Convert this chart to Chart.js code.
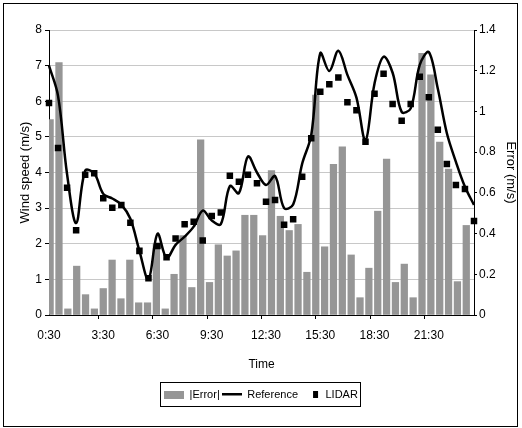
<!DOCTYPE html>
<html>
<head>
<meta charset="utf-8">
<script src="https://cdn.jsdelivr.net/npm/chart.js@4.4.1/dist/chart.umd.min.js"></script>
<style>
    html, body { margin: 0; padding: 0; background: #fff; }
    #wrap { position: relative; width: 522px; height: 428px; }
</style>
</head>
<body>
<div id="wrap"><canvas id="chart" width="522" height="428"></canvas></div>
<script>
// Half-hourly categories
const timeLabels = [
    '0:30', '1:00', '1:30', '2:00', '2:30', '3:00', '3:30', '4:00', '4:30', '5:00', '5:30', '6:00',
    '6:30', '7:00', '7:30', '8:00', '8:30', '9:00', '9:30', '10:00', '10:30', '11:00', '11:30', '12:00',
    '12:30', '13:00', '13:30', '14:00', '14:30', '15:00', '15:30', '16:00', '16:30', '17:00', '17:30', '18:00',
    '18:30', '19:00', '19:30', '20:00', '20:30', '21:00', '21:30', '22:00', '22:30', '23:00', '23:30', '24:00'
];

// |Error| (m/s), right axis
const errorValues = [
    0.96, 1.24, 0.03, 0.24, 0.10, 0.03, 0.13, 0.27, 0.08, 0.27, 0.06, 0.06,
    0.35, 0.03, 0.20, 0.39, 0.135, 0.86, 0.16, 0.345, 0.29, 0.315, 0.49, 0.49,
    0.39, 0.71, 0.485, 0.415, 0.445, 0.21, 1.08, 0.335, 0.74, 0.826, 0.295, 0.085,
    0.23, 0.51, 0.766, 0.16, 0.25, 0.085, 1.285, 1.18, 0.85, 0.717, 0.164, 0.44
];

// Reference wind speed (m/s)
const referenceValues = [
    7.0, 6.15, 3.95, 2.58, 4.05, 3.98, 3.4, 3.27, 3.1, 2.7, 1.8, 1.0,
    2.28, 1.6, 1.97, 2.2, 2.48, 2.93, 2.65, 2.55, 3.62, 3.42, 4.45, 4.0,
    3.65, 3.9, 3.0, 3.1, 4.25, 5.05, 7.35, 6.85, 7.42, 6.74, 6.1, 4.9,
    6.5, 7.25, 6.8, 5.7, 5.8, 7.02, 7.38, 6.35, 5.1, 4.3, 3.6, 3.09
];

// LIDAR wind speed (m/s)
const lidarValues = [
    5.95, 4.69, 3.57, 2.38, 3.94, 3.98, 3.28, 3.01, 3.09, 2.59, 1.80, 1.03,
    1.94, 1.62, 2.15, 2.55, 2.62, 2.09, 2.78, 2.88, 3.91, 3.74, 3.94, 3.70,
    3.18, 3.23, 2.53, 2.69, 3.88, 4.96, 6.27, 6.48, 6.67, 5.97, 5.75, 4.86,
    6.21, 6.77, 5.92, 5.45, 5.92, 6.69, 6.11, 5.20, 4.24, 3.65, 3.54, 2.64
];

const FONT = '"Liberation Sans", Arial, sans-serif';
const BAR_GREY = '#969696';

// small swatches for the legend
function makeSwatch(w, h, draw) {
    const c = document.createElement('canvas');
    c.width = w;
    c.height = h;
    draw(c.getContext('2d'));
    return c;
}
const errorSwatch = makeSwatch(20, 8, g => { g.fillStyle = BAR_GREY; g.fillRect(0, 0, 20, 8); });
const refSwatch = makeSwatch(20, 3, g => { g.fillStyle = '#000'; g.fillRect(0, 0, 20, 2.5); });
const lidarSwatch = makeSwatch(20, 7, g => { g.fillStyle = '#000'; g.fillRect(13, 0, 5, 7); });

// frame around the whole picture and around the legend
const framePlugin = {
    id: 'frame',
    afterDraw(chart) {
        const ctx = chart.ctx;
        ctx.save();
        ctx.strokeStyle = '#000';
        ctx.lineWidth = 1;
        ctx.strokeRect(3.5, 3.5, 514, 423);

        const boxes = chart.legend.legendHitBoxes;
        if (boxes && boxes.length) {
            const left = Math.min(...boxes.map(b => b.left));
            const right = Math.max(...boxes.map(b => b.left + b.width));
            const top = boxes[0].top;
            ctx.strokeRect(Math.round(left) - 3.5, Math.round(top) - 6.5, Math.round(right - left) + 6, 24);
        }
        ctx.restore();
    }
};

new Chart(document.getElementById('chart'), {
    type: 'bar',
    data: {
        labels: timeLabels,
        datasets: [
            {
                type: 'bar',
                label: '|Error|',
                data: errorValues,
                backgroundColor: BAR_GREY,
                xAxisID: 'xb',
                yAxisID: 'y2',
                barThickness: 6.6,
                order: 3
            },
            {
                type: 'line',
                label: 'Reference',
                data: referenceValues,
                borderColor: '#000',
                borderWidth: 2.5,
                pointRadius: 0,
                tension: 0.35,
                fill: false,
                xAxisID: 'x',
                yAxisID: 'y',
                order: 2
            },
            {
                type: 'line',
                label: 'LIDAR',
                data: lidarValues,
                showLine: false,
                pointStyle: 'rect',
                pointRadius: 4.6,
                pointBackgroundColor: '#000',
                pointBorderColor: '#000',
                pointBorderWidth: 0,
                xAxisID: 'x',
                yAxisID: 'y',
                order: 1
            }
        ]
    },
    options: {
        responsive: false,
        animation: false,
        layout: { padding: { top: 30, left: 0, right: 0, bottom: 18 } },
        plugins: {
            tooltip: { enabled: false },
            legend: {
                position: 'bottom',
                labels: {
                    usePointStyle: true,
                    pointStyleWidth: 20,
                    boxHeight: 11,
                    padding: 2,
                    color: '#000',
                    font: { family: FONT, size: 11 },
                    generateLabels: () => [
                        { text: '|Error|', pointStyle: errorSwatch, fillStyle: BAR_GREY, lineWidth: 0, datasetIndex: 0 },
                        { text: 'Reference', pointStyle: refSwatch, fillStyle: '#000', lineWidth: 0, datasetIndex: 1 },
                        { text: 'LIDAR', pointStyle: lidarSwatch, fillStyle: '#000', lineWidth: 0, datasetIndex: 2 }
                    ]
                }
            }
        },
        scales: {
            x: {
                type: 'category',
                offset: false,
                grid: {
                    drawOnChartArea: false,
                    tickLength: 4,
                    color: c => (c.index > 0 && c.index % 6 === 0) ? '#000' : 'rgba(0,0,0,0)'
                },
                border: { color: '#000' },
                ticks: {
                    autoSkip: false,
                    maxRotation: 0,
                    padding: 9,
                    color: '#000',
                    font: { family: FONT, size: 12 },
                    callback: (v, i) => (i % 6 === 0 ? timeLabels[i] : '')
                },
                title: {
                    display: true,
                    text: 'Time',
                    color: '#000',
                    font: { family: FONT, size: 12 },
                    padding: { top: 0, bottom: 15 }
                },
                afterFit: s => { s.height = 72; }
            },
            xb: {
                type: 'category',
                offset: true,
                display: false
            },
            y: {
                position: 'left',
                min: 0,
                max: 8,
                ticks: {
                    stepSize: 1,
                    padding: 3,
                    color: '#000',
                    font: { family: FONT, size: 12 }
                },
                grid: { color: '#c8c8c8', tickColor: '#000', tickLength: 4 },
                border: { color: '#000' },
                title: {
                    display: true,
                    text: 'Wind speed (m/s)',
                    color: '#000',
                    font: { family: FONT, size: 13 },
                    padding: { top: 18, bottom: 0 }
                },
                afterFit: s => { s.width = 49; }
            },
            y2: {
                position: 'right',
                min: 0,
                max: 1.4,
                ticks: {
                    stepSize: 0.2,
                    padding: 2,
                    color: '#000',
                    font: { family: FONT, size: 12 },
                    callback: v => String(+v.toFixed(1))
                },
                grid: { drawOnChartArea: false, color: '#000', tickLength: 3 },
                border: { color: '#000' },
                title: {
                    display: true,
                    text: 'Error (m/s)',
                    color: '#000',
                    font: { family: FONT, size: 13 },
                    padding: { top: 4, bottom: 0 }
                },
                afterFit: s => { s.width = 48; }
            }
        }
    },
    plugins: [framePlugin]
});
</script>
</body>
</html>
